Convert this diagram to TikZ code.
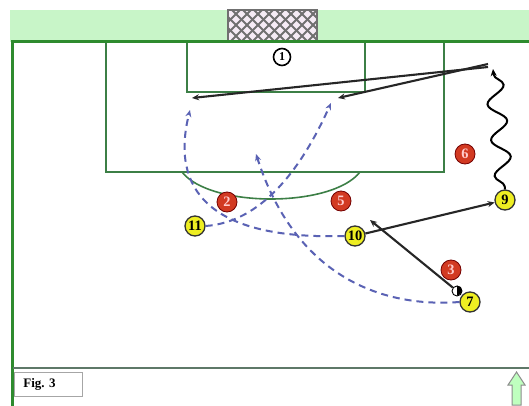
\documentclass[tikz,border=0pt]{standalone}
\usepackage{fontspec}
\setmainfont{Liberation Serif}
\usetikzlibrary{arrows.meta,decorations.pathmorphing}
\definecolor{bandgreen}{HTML}{C8F5C8}
\definecolor{linegreen}{HTML}{2E8B2E}
\definecolor{markgreen}{HTML}{3C7F46}
\definecolor{redplayer}{HTML}{D23A22}
\definecolor{yellowplayer}{HTML}{EEEE22}
\definecolor{runblue}{HTML}{5A62B4}
\definecolor{netgray}{HTML}{707070}
\definecolor{footline}{HTML}{5E7868}
\tikzset{
  field/.style={draw=linegreen,line width=3pt},
  marking/.style={draw=markgreen,line width=1.6pt},
  redp/.style={circle,draw=red!45!black,line width=0.8pt,fill=redplayer,minimum size=20pt,inner sep=0pt,
    text=white!80!red,font=\bfseries\Large},
  yelp/.style={circle,draw=black!80,line width=1.3pt,fill=yellowplayer,minimum size=20pt,inner sep=0pt,
    text=black,font=\bfseries\Large},
  pass/.style={draw=black!85,line width=2.1pt,-{Stealth[length=7pt,width=6pt]}},
  run/.style={draw=runblue,line width=2pt,dash pattern=on 7pt off 5pt,-{Stealth[length=7pt,width=6pt]}},
}
\begin{document}
\begin{tikzpicture}[x=1pt,y=-1pt]
\useasboundingbox (0,0) rectangle (529,406);
\fill[white] (0,0) rectangle (529,406);

% grass band behind the goal line
\fill[bandgreen] (10,10) rectangle (529,42);

% goal net
\begin{scope}
  \clip (228,10) rectangle (317,41);
  \fill[white!92!violet] (228,10) rectangle (317,41);
  \foreach \i in {0,...,14} {
    \draw[netgray,line width=2pt] (200+11*\i,0) -- +(50,50);
    \draw[netgray,line width=2pt] (200+11*\i,50) -- +(50,-50);
  }
\end{scope}
\draw[netgray,line width=1.2pt] (228,41) -- (228,10) -- (317,10) -- (317,41);

% penalty area, goal area and arc
\draw[marking] (106,42) rectangle (444,172);
\draw[marking] (187,42) rectangle (365,92);
\draw[marking] (182,172) .. controls (210,208) and (332,208) .. (360,172);

% field boundary
\draw[field] (12,406) -- (12,42) -- (529,42);

% footer
\draw[footline,line width=2pt] (13,368) -- (529,368);
\node[draw=black!35,line width=1pt,minimum width=68pt,minimum height=24pt,inner sep=0pt,
  font=\bfseries\fontsize{13}{14}\selectfont,anchor=north west] (fig) at (14,372) {\hspace*{-18pt}Fig. 3};
\draw[draw=black!45,fill=green!25,line width=1pt]
  (512,405) -- (512,385) -- (508,385) -- (516.5,372) -- (525,385) -- (521,385) -- (521,405) -- cycle;

% goalkeeper
\node[circle,draw=black,line width=1.6pt,inner sep=0pt,minimum size=17pt,font=\bfseries\large] (gk) at (282,57) {1};

% players
\node[redp] (r2) at (227,202) {2};
\node[redp] (r5) at (341,201) {5};
\node[redp] (r6) at (465,154) {6};
\node[redp] (r3) at (451,270) {3};
\node[yelp] (y11) at (195,226) {11};
\node[yelp] (y10) at (355,236) {10};
\node[yelp] (y9) at (505,200) {9};
\node[yelp] (y7) at (470,302) {7};

% ball
\node[circle,draw=black,line width=0.9pt,fill=white,minimum size=10pt,inner sep=0pt] (ball) at (457,291) {};
\fill[black] (ball.north) arc[start angle=90,end angle=-90,radius=5pt] -- cycle;

% named end points of the movements
\coordinate (cross) at (488,67);
\coordinate (near) at (192,98);
\coordinate (far) at (338,98);
\coordinate (dribble) at (493,69);
\coordinate (run11) at (331,103);
\coordinate (run10) at (190,110);
\coordinate (run7) at (256,154);

% passes
\draw[pass] (cross) -- (near);
\draw[pass] ([yshift=3pt]cross) -- (far);
\draw[pass] (y10) -- (y9);
\draw[pass] (ball) -- ([xshift=15pt,yshift=16pt]y10.center);

% dribble of 9
\draw[black,line width=2pt,decorate,decoration={snake,segment length=36pt,amplitude=9pt,pre length=3pt,post length=3pt},
  -{Stealth[length=7pt,width=6pt]}] (y9.north) -- (dribble);

% runs
\draw[run] (y11.east) .. controls (260,222) and (300,172) .. (run11);
\draw[run] (y10.west) .. controls (210,240) and (170,190) .. (run10);
\draw[run] (y7.west) .. controls (380,308) and (295,275) .. (run7);
\end{tikzpicture}
\end{document}
